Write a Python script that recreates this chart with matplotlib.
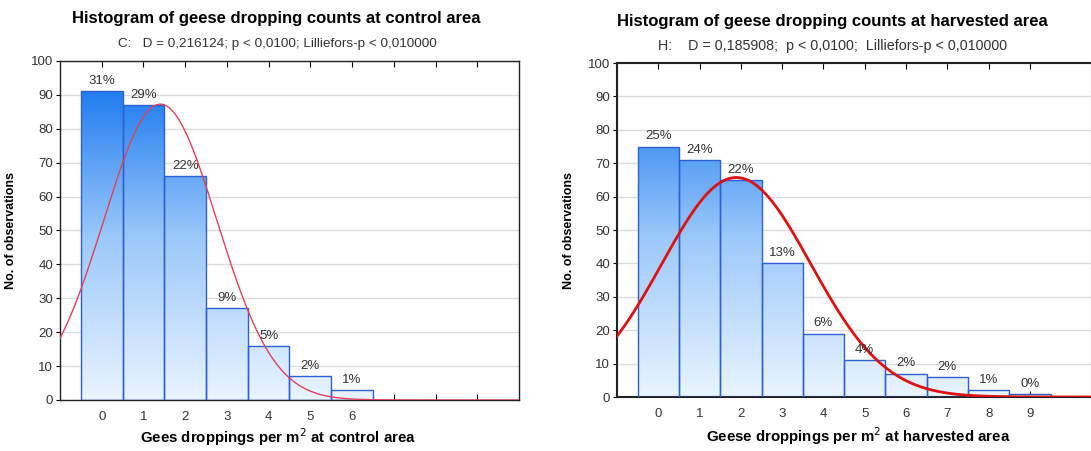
import numpy as np
import matplotlib
matplotlib.use("Agg")
import matplotlib.pyplot as plt
from matplotlib.colors import LinearSegmentedColormap

plt.rcParams["font.family"] = ["Liberation Sans", "DejaVu Sans"]

# data
bins = [0, 1, 2, 3, 4, 5, 6, 7, 8, 9]
control_counts = [91, 87, 66, 27, 16, 7, 3]
control_pct = ["31%", "29%", "22%", "9%", "5%", "2%", "1%"]
harvest_counts = [75, 71, 65, 40, 19, 11, 7, 6, 2, 1]
harvest_pct = ["25%", "24%", "22%", "13%", "6%", "4%", "2%", "2%", "1%", "0%"]

control_title = "Histogram of geese dropping counts at control area"
control_sub = "C:   D = 0,216124; p < 0,0100; Lilliefors-p < 0,010000"
harvest_title = "Histogram of geese dropping counts at harvested area"
harvest_sub = "H:    D = 0,185908;  p < 0,0100;  Lilliefors-p < 0,010000"

grad = LinearSegmentedColormap.from_list("bluegrad", ["#e9f4ff", "#9cc9fa", "#1676ef"])


def normal_fit(counts):
    x = np.arange(len(counts))
    c = np.array(counts, dtype=float)
    n = c.sum()
    mu = (x * c).sum() / n
    sd = np.sqrt((c * (x - mu) ** 2).sum() / n)
    xs = np.linspace(-1.5, 11, 400)
    ys = n / (sd * np.sqrt(2 * np.pi)) * np.exp(-0.5 * ((xs - mu) / sd) ** 2)
    return xs, ys


def draw_hist(ax, counts, pct, xlim, nlabels, curve_color, curve_lw, spine_lw):
    x = np.arange(len(counts))
    bars = ax.bar(x, counts, width=1.0, facecolor="none", edgecolor="#2d5fd0",
                  linewidth=1.0, zorder=3)
    g = np.linspace(0, 1, 256).reshape(-1, 1)
    for b in bars:
        im = ax.imshow(g, cmap=grad, aspect="auto", origin="lower",
                       extent=(xlim[0], xlim[1], 0, 95), vmin=0, vmax=1, zorder=2)
        im.set_clip_path(b)
    for xi, c, p in zip(x, counts, pct):
        ax.annotate(p, (xi, c), xytext=(0, 3), textcoords="offset points",
                    ha="center", va="bottom", fontsize=9.5, color="#333333", zorder=5)
    xs, ys = normal_fit(counts)
    ax.plot(xs, ys, color=curve_color, lw=curve_lw, zorder=4)

    ax.set_xlim(*xlim)
    ax.set_ylim(0, 100)
    ax.set_yticks(range(0, 101, 10))
    ax.set_xticks(bins)
    ax.set_xticklabels([str(b) if b < nlabels else "" for b in bins])
    ax.yaxis.grid(True, color="#dcdcdc", lw=1)
    ax.set_axisbelow(True)
    ax.tick_params(axis="x", direction="in", top=True, length=4, pad=8,
                   labelsize=9.5, labelcolor="#333333")
    ax.tick_params(axis="y", direction="out", length=3, pad=2,
                   labelsize=9.5, labelcolor="#333333")
    for s in ax.spines.values():
        s.set_linewidth(spine_lw)
        s.set_color("#222222")


fig = plt.figure(figsize=(10.91, 4.51), dpi=100)

ax1 = fig.add_axes([0.055, 0.1131, 0.4207, 0.7517])
draw_hist(ax1, control_counts, control_pct, (-1, 10), 7, "#e0405a", 1.0, 1.0)
ax1.set_ylabel("No. of observations", fontsize=9, fontweight="bold")
ax1.yaxis.set_label_coords(-0.094, 0.5)

ax2 = fig.add_axes([0.5655, 0.1197, 0.4354, 0.7406])
draw_hist(ax2, harvest_counts, harvest_pct, (-1, 10.5), 10, "#dd1111", 2.0, 1.5)
ax2.set_ylabel("No. of observations", fontsize=9, fontweight="bold")
ax2.yaxis.set_label_coords(-0.088, 0.5)

fig.text(0.253, 0.958, control_title, ha="center", va="center", fontsize=12, fontweight="bold")
fig.text(0.254, 0.902, control_sub, ha="center", va="center", fontsize=9.7, color="#333333")
fig.text(0.763, 0.953, harvest_title, ha="center", va="center", fontsize=12, fontweight="bold")
fig.text(0.763, 0.899, harvest_sub, ha="center", va="center", fontsize=10.3, color="#333333")

fig.text(0.255, 0.03, "Gees droppings per m$^2$ at control area", ha="center", va="center",
         fontsize=10.8, fontweight="bold")
fig.text(0.787, 0.034, "Geese droppings per m$^2$ at harvested area", ha="center", va="center",
         fontsize=10.8, fontweight="bold")

fig.savefig("out.png", dpi=100)
